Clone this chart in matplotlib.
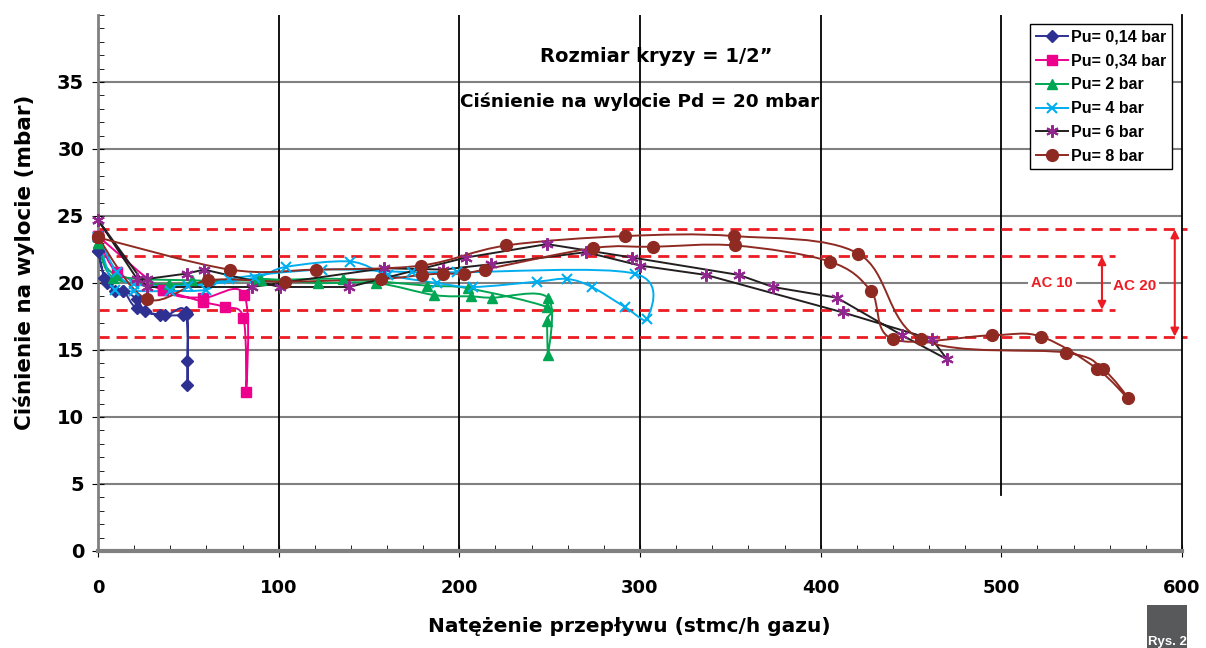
import numpy as np
import matplotlib
matplotlib.use('Agg')
import matplotlib.pyplot as plt
from matplotlib.path import Path
from matplotlib.patches import PathPatch, Rectangle
from matplotlib.lines import Line2D

plt.rcParams['font.family'] = ['DejaVu Sans']
plt.rcParams['font.weight'] = 'bold'

# Data (flow in stmc/h, outlet pressure in mbar)

labels = ['Pu= 0,14 bar', 'Pu= 0,34 bar', 'Pu= 2 bar', 'Pu= 4 bar', 'Pu= 6 bar', 'Pu= 8 bar']

pu014_x = [0, 3.5, 9.5, 14, 21.5, 26, 34.3, 47, 49.5, 49.5, 49.5, 48.5, 37, 21.5, 14, 5, 0]
pu014_y = [22.4, 20.4, 19.4, 19.4, 18.8, 17.9, 17.6, 17.6, 17.7, 14.2, 12.4, 17.8, 17.6, 18.1, 19.4, 20.0, 22.4]

pu034_x = [0, 10.5, 36, 58, 70, 80.5, 82, 81, 58, 36, 0]
pu034_y = [23.5, 20.8, 19.5, 18.6, 18.2, 17.4, 11.9, 19.1, 18.9, 19.5, 23.5]

pu2_x = [0, 8.5, 39, 88, 122, 154, 186, 206.5, 218, 249, 249, 248.5, 248.5, 205, 182, 135.6, 90, 52, 10, 0]
pu2_y = [23.0, 20.4, 19.9, 20.3, 20.0, 20.0, 19.1, 19.0, 18.9, 18.9, 14.6, 17.2, 18.2, 19.6, 19.8, 20.3, 20.2, 20.2, 20.6, 23.0]

pu4_x = [0, 10.5, 20, 50, 87, 104, 139.5, 160.5, 187.6, 207.6, 243, 259.6, 273.4, 291.7, 304,
         297, 198.7, 174, 124, 72.5, 60, 40, 20, 9.4, 0]
pu4_y = [23.4, 20.8, 19.9, 19.8, 20.4, 21.2, 21.6, 20.6, 20.0, 19.7, 20.1, 20.3, 19.7, 18.2, 17.3,
         20.7, 20.8, 20.8, 21.0, 20.3, 19.5, 19.4, 19.4, 19.5, 23.4]

pu6_x = [0, 21.6, 27, 49, 58.7, 100.7, 139, 203.7, 248.5, 295.6, 354.8, 373.6, 409, 445, 470,
         461.6, 412.4, 336.5, 300, 270, 217.5, 191, 158.3, 85, 27, 0]
pu6_y = [24.7, 20.3, 20.3, 20.7, 21.0, 19.7, 19.7, 21.9, 22.9, 21.9, 20.6, 19.7, 18.9, 16.1, 14.3,
         15.8, 17.8, 20.6, 21.3, 22.3, 21.4, 21.0, 21.1, 19.7, 19.7, 24.7]

pu8_x = [0, 27, 61, 103.5, 156.6, 179.3, 191, 202.6, 214, 274, 307, 352.6, 405, 427.8, 440, 494.8, 522, 553, 570,
         556, 535.8, 455.5, 420.7, 352, 291.7, 226, 178.8, 120.7, 73, 0]
pu8_y = [23.4, 18.8, 20.2, 20.1, 20.3, 20.6, 20.7, 20.7, 21.0, 22.6, 22.7, 22.8, 21.6, 19.4, 15.8, 16.1, 16.0, 13.6, 11.4,
         13.6, 14.8, 15.8, 22.2, 23.5, 23.5, 22.8, 21.3, 21.0, 21.0, 23.4]

# Tolerance bands (AC 10: 18-22, AC 20: 16-24)
ac10_band = [18, 22]
ac20_band = [16, 24]


def smooth_path(xs, ys):
    """Excel-style smoothed line through the points (Catmull-Rom as Bezier)."""
    pts = np.column_stack([xs, ys]).astype(float)
    n = len(pts)
    verts = [pts[0]]
    codes = [Path.MOVETO]
    for i in range(n - 1):
        p0 = pts[i - 1] if i > 0 else pts[i]
        p1 = pts[i]
        p2 = pts[i + 1]
        p3 = pts[i + 2] if i + 2 < n else pts[i + 1]
        verts += [p1 + (p2 - p0) / 6, p2 - (p3 - p1) / 6, p2]
        codes += [Path.CURVE4] * 3
    return Path(verts, codes)


series = [
    (pu014_x, pu014_y, '#2E3192', '#2E3192', 'D', 6, True),
    (pu034_x, pu034_y, '#EC008C', '#EC008C', 's', 7, True),
    (pu2_x, pu2_y, '#00A651', '#00A651', '^', 7.5, True),
    (pu4_x, pu4_y, '#00AEEF', '#00AEEF', 'x', 7.5, True),
    (pu6_x, pu6_y, '#231F20', '#92278F', (6, 2, 0), 9, False),
    (pu8_x, pu8_y, '#8E2A22', '#8E2A22', 'o', 8.5, True),
]

fig = plt.figure(figsize=(12.06, 6.48), dpi=100)
ax = fig.add_axes([0.0813, 0.1497, 0.8988, 0.8272])

ax.set_xlim(0, 600)
ax.set_ylim(0, 40)

# Grid: grey horizontal, black vertical (the 500 line stops short of the axis)
for yv in range(5, 40, 5):
    ax.axhline(yv, color='#808080', lw=1.5, zorder=1)
for xv in range(100, 600, 100):
    ax.axvline(xv, ymin=0.105 if xv == 500 else 0, color='black', lw=1.3, zorder=1)

# Red dashed band lines
for yv in ac20_band:
    ax.plot([0, 603], [yv, yv], color='#ED1C24', lw=2, dashes=(4, 2.5), clip_on=False, zorder=2)
for yv in ac10_band:
    ax.plot([0, 563], [yv, yv], color='#ED1C24', lw=2, dashes=(4, 2.5), zorder=2)

handles = []
for (xs, ys, lc, mc, mk, ms, smooth), lab in zip(series, labels):
    if smooth:
        ax.add_patch(PathPatch(smooth_path(xs, ys), facecolor='none', edgecolor=lc, lw=1.4, zorder=3))
    else:
        ax.plot(xs, ys, color=lc, lw=1.4, zorder=3)
    mew = 1.5 if mk in ('x', (6, 2, 0)) else 1
    ax.plot(xs, ys, linestyle='none', marker=mk, ms=ms, color=mc, mec=mc, mew=mew, zorder=4, clip_on=False)
    handles.append(Line2D([], [], color=lc, lw=1.4, marker=mk, ms=ms, mfc=mc, mec=mc, mew=mew))

# AC arrows and labels
ax.annotate('', xy=(555.7, ac10_band[0]), xytext=(555.7, ac10_band[1]),
            arrowprops=dict(arrowstyle='<|-|>', color='#ED1C24', lw=1.5, shrinkA=0, shrinkB=0,
                            mutation_scale=12))
ax.annotate('', xy=(596, ac20_band[0]), xytext=(596, ac20_band[1]),
            arrowprops=dict(arrowstyle='<|-|>', color='#ED1C24', lw=1.5, shrinkA=0, shrinkB=0,
                            mutation_scale=12), annotation_clip=False)
ax.text(528, 20, 'AC 10', color='#ED1C24', fontsize=10.5, family='Liberation Sans',
        ha='center', va='center', bbox=dict(facecolor='white', edgecolor='none', pad=2), zorder=5)
ax.text(574, 19.8, 'AC 20', color='#ED1C24', fontsize=11, family='Liberation Sans',
        ha='center', va='center', bbox=dict(facecolor='white', edgecolor='none', pad=2), zorder=5)

# Titles inside the plot
ax.text(309, 36.9, 'Rozmiar kryzy = 1/2\u201d', fontsize=14, ha='center', va='center')
ax.text(300, 33.5, 'Ciśnienie na wylocie Pd = 20 mbar', fontsize=13.3, ha='center', va='center')

# Axes, ticks
ax.set_xticks(range(0, 700, 100))
ax.set_xticks(range(0, 620, 20), minor=True)
ax.set_yticks(range(0, 40, 5))
ax.set_yticks(range(0, 41, 1), minor=True)
ax.tick_params(axis='x', which='major', direction='inout', length=8, labelsize=13, pad=16)
ax.tick_params(axis='x', which='minor', direction='in', length=4)
ax.tick_params(axis='y', which='major', direction='inout', length=8, labelsize=14, pad=6)
ax.tick_params(axis='y', which='minor', direction='in', length=4)

ax.spines['top'].set_visible(False)
ax.spines['left'].set_color('#808080')
ax.spines['left'].set_linewidth(2)
ax.spines['bottom'].set_color('#808080')
ax.spines['bottom'].set_linewidth(3)
ax.spines['right'].set_color('black')
ax.spines['right'].set_linewidth(1.3)

fig.text(0.02, 0.595, 'Ciśnienie na wylocie (mbar)', rotation=90, fontsize=15.5,
         ha='center', va='center')
fig.text(0.522, 0.018, 'Natężenie przepływu (stmc/h gazu)', fontsize=14.5, ha='center', va='bottom')

leg = ax.legend(handles, labels, loc='upper left', bbox_to_anchor=(0.8475, 0.975),
                bbox_transform=fig.transFigure, handlelength=2.0,
                prop=dict(family='Liberation Sans', weight='bold', size=11.5),
                labelspacing=0.55, borderpad=0.35, handletextpad=0.2, fancybox=False,
                framealpha=1, edgecolor='black')
leg.get_frame().set_linewidth(1)
leg.set_zorder(6)

# "Rys. 2" tag in the corner
fig.patches.append(Rectangle((1147 / 1206, 0), 40 / 1206, 43 / 648, transform=fig.transFigure,
                             facecolor='#58595B', edgecolor='none'))
fig.text(1167 / 1206, 0.0, 'Rys. 2', color='white', fontsize=9.5,
         family='Liberation Sans', ha='center', va='bottom')

fig.savefig('out.png', dpi=100)
